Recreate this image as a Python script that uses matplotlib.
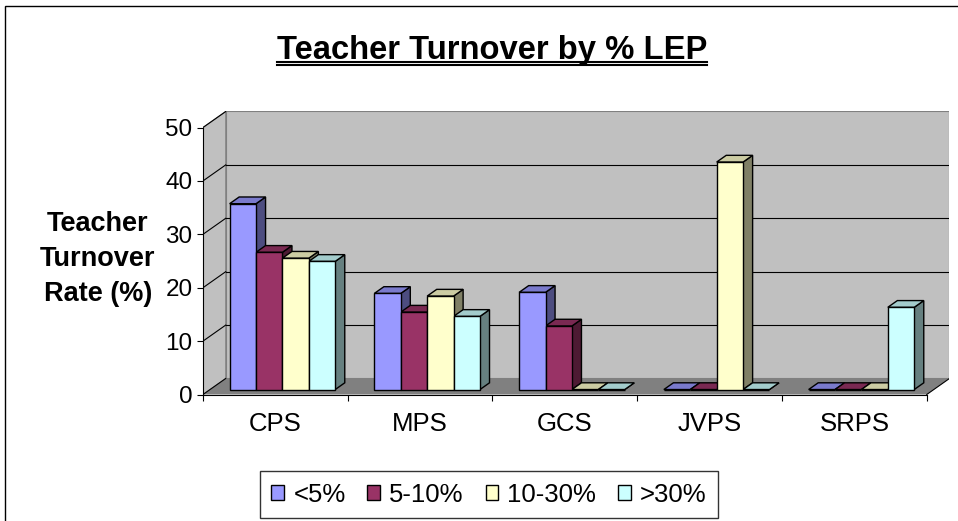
import matplotlib
matplotlib.use("Agg")
import matplotlib.pyplot as plt
from matplotlib.patches import Polygon, Rectangle
from matplotlib.lines import Line2D

plt.rcParams['font.family'] = ['Liberation Sans', 'DejaVu Sans']

# data
categories = ["CPS", "MPS", "GCS", "JVPS", "SRPS"]
series_names = ["<5%", "5-10%", "10-30%", ">30%"]
lt5 = [34.8, 18.0, 18.2, 0, 0]
p5_10 = [25.7, 14.5, 11.9, 0, 0]
p10_30 = [24.6, 17.5, 0, 42.6, 0]
gt30 = [24.0, 13.7, 0, 0, 15.4]
series = [lt5, p5_10, p10_30, gt30]
yticks = [0, 10, 20, 30, 40, 50]

front_cols = ['#9999FF', '#993366', '#FFFFCC', '#CCFFFF']
top_cols = ['#7A7ACC', '#7A2952', '#CCCCA3', '#A3CCCC']
side_cols = ['#4D4D80', '#4D1A33', '#808066', '#668080']

# 3d look (in data units)
ddx, ddy = 0.157, 3.0      # depth offset of back wall
f, b = 0.31, 0.73          # bar front / back depth fraction
w = 0.1824                 # bar width
gap = (1 - 4 * w) / 2
ymax = 50

fig = plt.figure(figsize=(9.58, 5.21), dpi=100)
ax = fig.add_axes([0.2119, 0.2428, 0.7792, 0.5432])
ax.set_xlim(0, len(categories) + ddx)
ax.set_ylim(0, ymax + ddy)
ax.patch.set_visible(False)

n = len(categories)
# walls and floor
ax.add_patch(Polygon([(ddx, ddy), (n + ddx, ddy), (n + ddx, ymax + ddy), (ddx, ymax + ddy)],
                     closed=True, fc='#C0C0C0', ec='#808080', lw=0.8, zorder=0.5))
ax.add_patch(Polygon([(0, 0), (ddx, ddy), (ddx, ymax + ddy), (0, ymax)],
                     closed=True, fc='#C0C0C0', ec='#808080', lw=0.8, zorder=0.5))
ax.add_patch(Polygon([(0, 0), (n, 0), (n + ddx, ddy), (ddx, ddy)],
                     closed=True, fc='#808080', ec='none', zorder=0.6))
ax.plot([n, n + ddx], [0, ddy], color='black', lw=0.8, zorder=0.7)
for v in yticks:
    ax.plot([0, ddx], [v, v + ddy], color='black', lw=0.8, zorder=1)
    if 0 < v < ymax:
        ax.plot([ddx, n + ddx], [v + ddy, v + ddy], color='black', lw=0.8, zorder=1)

# bars: sides and tops first, fronts with ax.bar on top
dx, dy = (b - f) * ddx, (b - f) * ddy
y0 = f * ddy
for i in range(n):
    for j, vals in enumerate(series):
        x0 = i + gap + j * w + f * ddx
        x1 = x0 + w
        y1 = y0 + vals[i]
        ax.add_patch(Polygon([(x1, y0), (x1 + dx, y0 + dy), (x1 + dx, y1 + dy), (x1, y1)],
                             closed=True, fc=side_cols[j], ec='black', lw=1.0, zorder=2))
        ax.add_patch(Polygon([(x0, y1), (x1, y1), (x1 + dx, y1 + dy), (x0 + dx, y1 + dy)],
                             closed=True, fc=top_cols[j], ec='black', lw=1.0, zorder=2))
for j, vals in enumerate(series):
    xs = [i + gap + j * w + f * ddx for i in range(n)]
    ax.bar(xs, vals, width=w, bottom=y0, align='edge', color=front_cols[j],
           edgecolor='black', linewidth=1.0, zorder=3, label=series_names[j])

# axes
for s in ['top', 'right']:
    ax.spines[s].set_visible(False)
ax.spines['left'].set_bounds(0, ymax)
ax.spines['bottom'].set_bounds(0, n)
ax.spines['left'].set_linewidth(0.8)
ax.spines['bottom'].set_linewidth(0.8)
ax.spines['left'].set_zorder(1.5)
ax.set_yticks(yticks)
ax.tick_params(axis='y', direction='out', length=4, width=0.8, pad=3.5, labelsize=17.5)
ax.set_xticks(range(n + 1))
ax.set_xticklabels([])
ax.set_xticks([i + 0.5 for i in range(n)], minor=True)
ax.set_xticklabels(categories, minor=True)
ax.tick_params(axis='x', which='major', direction='out', length=4, width=0.8)
ax.tick_params(axis='x', which='minor', length=0, pad=12.5, labelsize=18.5)

ax.text(-0.1407, 0.479, "Teacher\nTurnover\nRate (%)", transform=ax.transAxes,
        ha='center', va='center', multialignment='center', fontsize=19.5,
        fontweight='bold', linespacing=1.47)

# title with double underline
title = fig.text(0.5133, 1 - 59.3 / 521, "Teacher Turnover by % LEP", ha='center', va='baseline',
                 fontsize=23.6, fontweight='bold')
fig.canvas.draw()
bb = title.get_window_extent(fig.canvas.get_renderer())
W = fig.bbox.width
for yy in (61.8, 65.3):
    fig.add_artist(Line2D([bb.x0 / W, bb.x1 / W], [1 - yy / 521, 1 - yy / 521],
                          transform=fig.transFigure, color='black', lw=1.5))

# legend
handles = [Rectangle((0, 0), 1, 1, fc=c, ec='black', lw=1.0) for c in front_cols]
leg = fig.legend(handles, series_names, loc='center', bbox_to_anchor=(489 / 958, 1 - 494.5 / 521),
                 ncol=4, fontsize=18.5, frameon=True, fancybox=False, edgecolor='black',
                 handlelength=0.5, handleheight=0.5, handletextpad=0.35,
                 columnspacing=0.85, borderpad=0.45)
leg.get_frame().set_linewidth(1.0)

# chart area border
fig.add_artist(Rectangle((5 / 958, -0.1), 1.2, 1 - 5.5 / 521 + 0.1, transform=fig.transFigure,
                         fill=False, ec='black', lw=1.0))

fig.savefig("out.png", dpi=100)
